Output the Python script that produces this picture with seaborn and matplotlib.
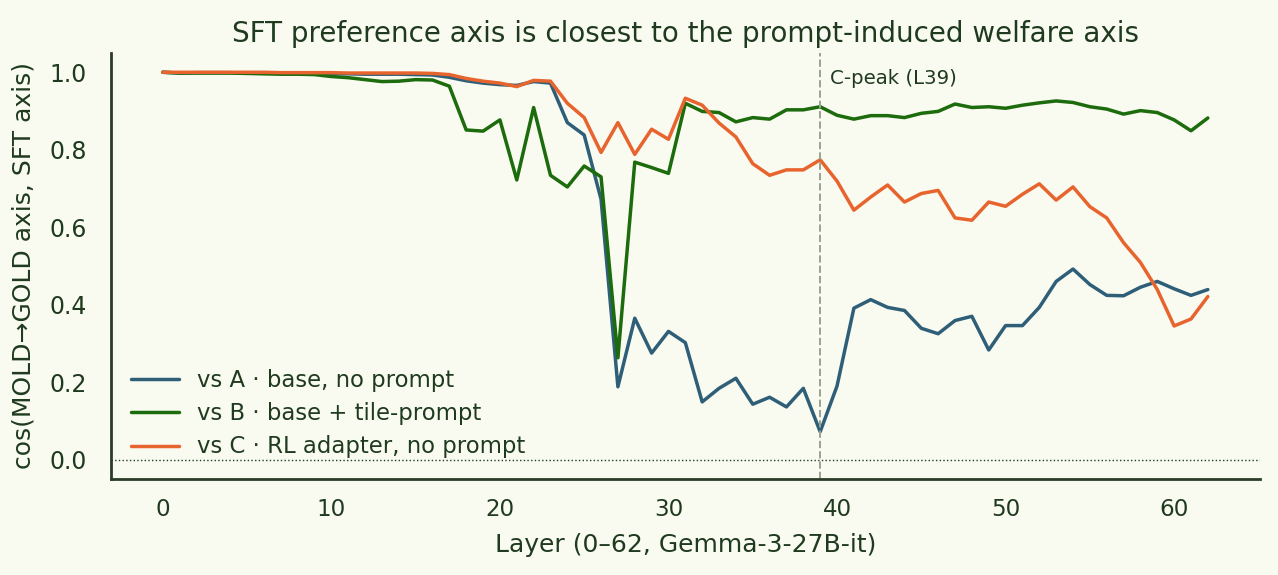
import numpy as np
import pandas as pd
import matplotlib
matplotlib.use("Agg")
import matplotlib.pyplot as plt
import seaborn as sns

layers = list(range(63))

vs_a = [1.0, 0.998, 0.999, 0.999, 0.999, 0.998, 0.998, 0.997, 0.997, 0.997,
        0.996, 0.996, 0.995, 0.995, 0.995, 0.994, 0.993, 0.987, 0.978, 0.972,
        0.968, 0.966, 0.976, 0.972, 0.870, 0.838, 0.672, 0.188, 0.365, 0.275,
        0.331, 0.302, 0.149, 0.184, 0.210, 0.143, 0.161, 0.136, 0.184, 0.072,
        0.190, 0.391, 0.413, 0.393, 0.385, 0.339, 0.325, 0.359, 0.370, 0.283,
        0.346, 0.346, 0.393, 0.460, 0.492, 0.452, 0.424, 0.423, 0.445, 0.460,
        0.441, 0.424, 0.439]

vs_b = [1.0, 0.998, 0.998, 0.998, 0.998, 0.997, 0.996, 0.995, 0.995, 0.994,
        0.989, 0.986, 0.981, 0.976, 0.977, 0.981, 0.980, 0.964, 0.851, 0.848,
        0.877, 0.722, 0.909, 0.734, 0.704, 0.758, 0.730, 0.263, 0.768, 0.754,
        0.739, 0.920, 0.899, 0.896, 0.872, 0.883, 0.879, 0.903, 0.903, 0.911,
        0.889, 0.879, 0.888, 0.888, 0.883, 0.894, 0.899, 0.918, 0.909, 0.911,
        0.907, 0.915, 0.921, 0.926, 0.922, 0.911, 0.905, 0.892, 0.901, 0.896,
        0.877, 0.849, 0.882]

vs_c = [1.0, 1.0, 1.0, 1.0, 1.0, 1.0, 1.0, 0.999, 0.999, 0.999,
        0.999, 0.998, 0.998, 0.998, 0.998, 0.998, 0.997, 0.994, 0.984, 0.977,
        0.972, 0.963, 0.979, 0.977, 0.920, 0.883, 0.793, 0.870, 0.788, 0.853,
        0.827, 0.933, 0.915, 0.869, 0.833, 0.764, 0.734, 0.748, 0.748, 0.774,
        0.719, 0.644, 0.678, 0.709, 0.665, 0.687, 0.695, 0.624, 0.618, 0.665,
        0.654, 0.685, 0.712, 0.670, 0.704, 0.653, 0.624, 0.560, 0.509, 0.439,
        0.345, 0.363, 0.421]

series_names = ["vs A · base, no prompt",
                "vs B · base + tile-prompt",
                "vs C · RL adapter, no prompt"]
colors = ["#2f5f78", "#1c6b0c", "#e8642e"]
peak_layer = 39

title = "SFT preference axis is closest to the prompt-induced welfare axis"
xlabel = "Layer (0–62, Gemma-3-27B-it)"
ylabel = "cos(MOLD→GOLD axis, SFT axis)"
peak_label = "C-peak (L39)"

bg = "#f9fbf0"
ink = "#1f3a1f"

sns.set_theme(style="white")
plt.rcParams.update({
    "font.family": ["DejaVu Sans"],
    "figure.facecolor": bg,
    "axes.facecolor": bg,
    "text.color": ink,
    "axes.labelcolor": ink,
    "xtick.color": ink,
    "ytick.color": ink,
    "axes.edgecolor": "#2a3d28",
})

df = pd.concat([
    pd.DataFrame({"layer": layers, "cos": vals, "series": name})
    for name, vals in zip(series_names, [vs_a, vs_b, vs_c])
])

fig, ax = plt.subplots(figsize=(6.39, 2.875), dpi=200)
fig.subplots_adjust(left=0.0865, right=0.986, bottom=0.167, top=0.908)

sns.lineplot(data=df, x="layer", y="cos", hue="series", hue_order=series_names,
             palette=colors, linewidth=1.25, ax=ax)

ax.axhline(0, color=ink, linestyle=":", linewidth=0.5)
ax.axvline(peak_layer, color="#9aa391", linestyle="--", linewidth=0.7)
ax.text(peak_layer + 0.6, 0.985, peak_label, fontsize=7.1, color=ink,
        ha="left", va="center")

ax.set_title(title, fontsize=10, color=ink, pad=4)
ax.set_xlabel(xlabel, fontsize=9, labelpad=4)
ax.set_ylabel(ylabel, fontsize=9, labelpad=5)
ax.tick_params(axis="x", labelsize=8.3, length=0, pad=7)
ax.tick_params(axis="y", labelsize=8.5, length=0, pad=8.5)
ax.set_xticks([0, 10, 20, 30, 40, 50, 60])
ax.set_yticks([0.0, 0.2, 0.4, 0.6, 0.8, 1.0])

sns.despine(ax=ax)
for s in ["left", "bottom"]:
    ax.spines[s].set_linewidth(1.0)

leg = ax.legend(loc="lower left", frameon=False, fontsize=8.2,
                handlelength=2.1, labelspacing=0.45,
                bbox_to_anchor=(0.0, 0.0))
for t in leg.get_texts():
    t.set_color(ink)

fig.savefig("out.png", dpi=200, facecolor=bg)
